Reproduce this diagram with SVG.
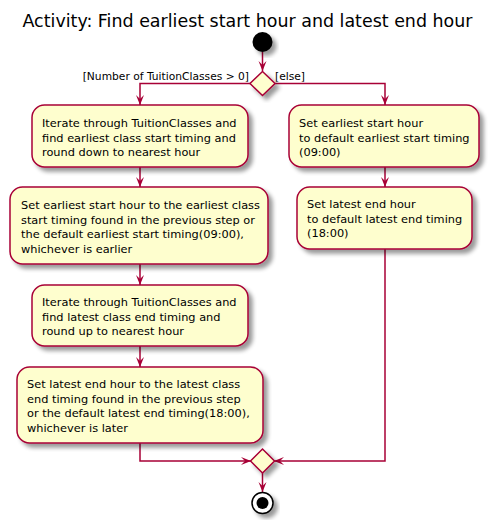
<svg xmlns="http://www.w3.org/2000/svg" width="495" height="531" viewBox="0 0 495 531">
<style>
.box{fill:#FEFECE;stroke:#A80036;stroke-width:1.5;filter:url(#sh)}
.dia{fill:#FEFECE;stroke:#A80036;stroke-width:1.5;filter:url(#sh)}
.t{font-family:"DejaVu Sans",sans-serif;font-size:11.35px;fill:#000}
.g{font-family:"DejaVu Sans",sans-serif;font-size:10.7px;fill:#000}
.title{font-family:"DejaVu Sans",sans-serif;font-size:17.45px;fill:#000}
.c{fill:none;stroke:#A80036;stroke-width:1.5;marker-end:url(#ah)}
</style>
<defs>
<filter id="sh" x="-20%" y="-20%" width="150%" height="150%">
<feGaussianBlur in="SourceAlpha" stdDeviation="2"/>
<feOffset dx="4" dy="4" result="b"/>
<feComponentTransfer><feFuncA type="linear" slope="0.4"/></feComponentTransfer>
<feMerge><feMergeNode/><feMergeNode in="SourceGraphic"/></feMerge>
</filter>
<marker id="ah" markerUnits="userSpaceOnUse" markerWidth="12" markerHeight="10" refX="10" refY="4" orient="auto" viewBox="0 0 12 10">
<path d="M0,0 L10,4 L0,8 L4,4 Z" fill="#A80036"/>
</marker>
</defs>
<rect width="495" height="531" fill="#FFFFFF"/>
<text class="title" x="247.5" y="27" text-anchor="middle">Activity: Find earliest start hour and latest end hour</text>

<g id="connectors">
<path class="c" d="M262.5,52 V71"/>
<path class="c" d="M250.5,83.5 H140 V105"/>
<path class="c" d="M274.5,83.5 H385 V105"/>
<path class="c" d="M140,167 V187"/>
<path class="c" d="M140,264 V285"/>
<path class="c" d="M140,346 V367"/>
<path class="c" d="M140,443 V461 H251"/>
<path class="c" d="M385,167 V187"/>
<path class="c" d="M385,249 V461 H274"/>
<path class="c" d="M262.5,473 V492"/>
<text class="g" x="249" y="80" text-anchor="end">[Number of TuitionClasses &gt; 0]</text>
<text class="g" x="275" y="80">[else]</text>
</g>

<g id="start"><circle cx="262.5" cy="42" r="10" fill="#000" filter="url(#sh)"/></g>

<g id="decision"><polygon class="dia" points="262.5,71.5 275,83.5 262.5,95.5 250,83.5"/></g>

<g id="box1">
<rect class="box" x="32" y="105" width="216" height="62" rx="12.5"/>
<text class="t" x="42" y="127">Iterate through TuitionClasses and</text>
<text class="t" x="42" y="141.5">find earliest class start timing and</text>
<text class="t" x="42" y="156">round down to nearest hour</text>
</g>

<g id="box2">
<rect class="box" x="10" y="187" width="258" height="77" rx="12.5"/>
<text class="t" x="21" y="209">Set earliest start hour to the earliest class</text>
<text class="t" x="21" y="223.5">start timing found in the previous step or</text>
<text class="t" x="21" y="238">the default earliest start timing(09:00),</text>
<text class="t" x="21" y="252.5">whichever is earlier</text>
</g>

<g id="box3">
<rect class="box" x="32" y="285" width="216" height="61" rx="12.5"/>
<text class="t" x="42" y="306">Iterate through TuitionClasses and</text>
<text class="t" x="42" y="320.5">find latest class end timing and</text>
<text class="t" x="42" y="335">round up to nearest hour</text>
</g>

<g id="box4">
<rect class="box" x="17" y="367" width="246" height="76" rx="12.5"/>
<text class="t" x="27" y="388">Set latest end hour to the latest class</text>
<text class="t" x="27" y="402.5">end timing found in the previous step</text>
<text class="t" x="27" y="417">or the default latest end timing(18:00),</text>
<text class="t" x="27" y="431.5">whichever is later</text>
</g>

<g id="box5">
<rect class="box" x="289" y="105" width="190" height="62" rx="12.5"/>
<text class="t" x="299" y="127">Set earliest start hour</text>
<text class="t" x="299" y="141.5">to default earliest start timing</text>
<text class="t" x="299" y="156">(09:00)</text>
</g>

<g id="box6">
<rect class="box" x="297" y="187" width="175" height="62" rx="12.5"/>
<text class="t" x="307" y="208">Set latest end hour</text>
<text class="t" x="307" y="222.5">to default latest end timing</text>
<text class="t" x="307" y="237">(18:00)</text>
</g>

<g id="merge"><polygon class="dia" points="262.5,449 274.5,461 262.5,473 250.5,461"/></g>

<g id="end">
<circle cx="262.5" cy="503" r="10.5" fill="#FFFFFF" stroke="#000" stroke-width="1.5" filter="url(#sh)"/>
<circle cx="262.5" cy="503" r="6" fill="#000"/>
</g>
</svg>
